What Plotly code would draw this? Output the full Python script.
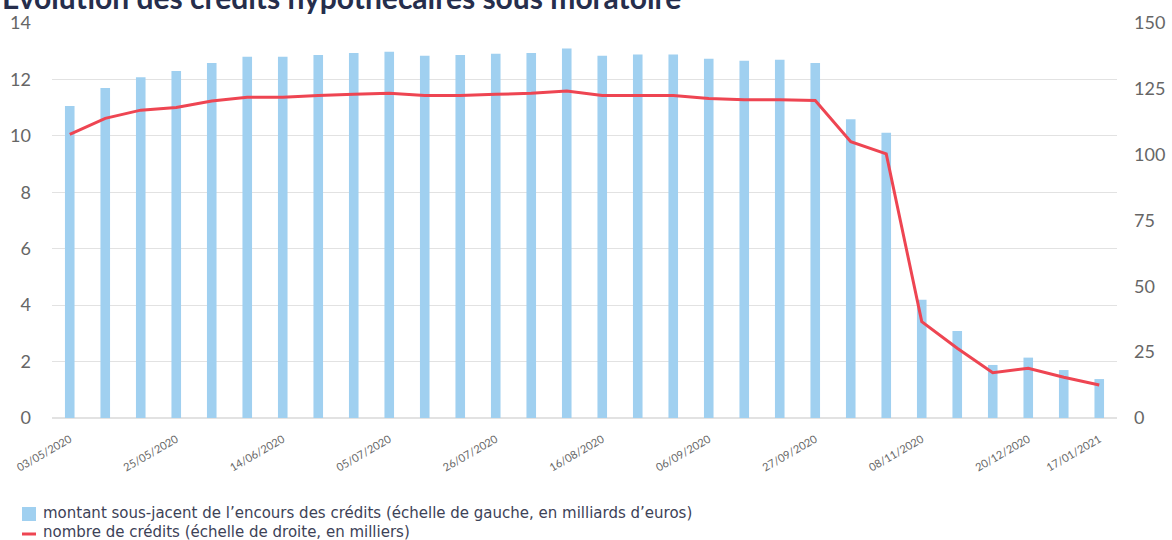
import plotly.graph_objects as go

dates = ["03/05/2020", "10/05/2020", "17/05/2020", "25/05/2020", "31/05/2020", "07/06/2020",
         "14/06/2020", "21/06/2020", "28/06/2020", "05/07/2020", "12/07/2020", "19/07/2020",
         "26/07/2020", "02/08/2020", "09/08/2020", "16/08/2020", "23/08/2020", "30/08/2020",
         "06/09/2020", "13/09/2020", "20/09/2020", "27/09/2020", "11/10/2020", "25/10/2020",
         "08/11/2020", "22/11/2020", "06/12/2020", "20/12/2020", "03/01/2021", "17/01/2021"]

montant = [11.06, 11.7, 12.08, 12.3, 12.58, 12.8, 12.8, 12.87, 12.94, 12.98, 12.84, 12.87,
           12.91, 12.94, 13.1, 12.84, 12.88, 12.88, 12.73, 12.66, 12.7, 12.58, 10.59, 10.11,
           4.19, 3.08, 1.88, 2.14, 1.70, 1.38]

nombre = [107.7, 113.8, 116.9, 117.9, 120.4, 121.8, 121.8, 122.5, 122.9, 123.3, 122.5, 122.5,
          122.9, 123.3, 124.2, 122.5, 122.5, 122.5, 121.3, 120.9, 120.9, 120.6, 104.9, 100.3,
          36.6, 26.5, 17.2, 18.9, 15.5, 12.5]

tick_labels = ["03/05/2020", "25/05/2020", "14/06/2020", "05/07/2020", "26/07/2020", "16/08/2020",
               "06/09/2020", "27/09/2020", "08/11/2020", "20/12/2020", "17/01/2021"]

title_text = "Évolution des crédits hypothécaires sous moratoire"
name_bar = "montant sous-jacent de l’encours des crédits (échelle de gauche, en milliards d’euros)"
name_line = "nombre de crédits (échelle de droite, en milliers)"

BAR_COLOR = "#a0d0f0"
LINE_COLOR = "#ee4552"
FONT = "Lato"
LEG_FONT = "DejaVu Sans"

W, H = 1172, 540
ML, MR, MT, MB = 52, 55, 23, 122
PW, PH = W - ML - MR, H - MT - MB


def px(x):
    return (x - ML) / PW


def py(y):
    return (H - MB - y) / PH


fig = go.Figure()
fig.add_trace(go.Bar(x=dates, y=montant, name=name_bar,
                     marker=dict(color=BAR_COLOR, line=dict(width=0)), width=0.27))
fig.add_trace(go.Scatter(x=dates, y=nombre, name=name_line, yaxis="y2", mode="lines",
                         line=dict(color=LINE_COLOR, width=3)))

fig.update_layout(
    width=W, height=H,
    margin=dict(l=ML, r=MR, t=MT, b=MB, autoexpand=False),
    paper_bgcolor="white", plot_bgcolor="white",
    font=dict(family=FONT, color="#555555"),
    showlegend=False,
    xaxis=dict(type="category", tickmode="array", tickvals=tick_labels, ticktext=tick_labels,
               tickangle=-30, tickfont=dict(size=11, color="#666666"), showgrid=False,
               showline=False, ticks="", zeroline=False, ticklabelstandoff=12, automargin=False),
    yaxis=dict(range=[0, 14], tickvals=[0, 2, 4, 6, 8, 10, 12, 14], showgrid=True,
               gridcolor="#e2e2e2", gridwidth=1, zeroline=True, zerolinecolor="#e2e2e2",
               zerolinewidth=2, tickfont=dict(size=18, color="#666666"), ticks="",
               ticklabelstandoff=20, automargin=False),
    yaxis2=dict(range=[0, 150], tickvals=[0, 25, 50, 75, 100, 125, 150], overlaying="y", side="right",
                showgrid=False, zeroline=False, tickfont=dict(size=18, color="#666666"), ticks="",
                ticklabelstandoff=16, automargin=False),
    annotations=[
        dict(text="<b>" + title_text + "</b>", xref="paper", yref="paper",
             x=px(0), y=py(-3), xanchor="left", yanchor="middle", showarrow=False,
             font=dict(size=30, color="#262e4c", family=FONT)),
        dict(text=name_bar, xref="paper", yref="paper", x=px(41), y=py(513),
             xanchor="left", yanchor="middle", showarrow=False,
             font=dict(size=15, color="#3d4257", family=LEG_FONT)),
        dict(text=name_line, xref="paper", yref="paper", x=px(41), y=py(532),
             xanchor="left", yanchor="middle", showarrow=False,
             font=dict(size=15, color="#3d4257", family=LEG_FONT)),
    ],
    shapes=[
        dict(type="rect", xref="paper", yref="paper", x0=px(22), x1=px(36), y0=py(521), y1=py(507),
             fillcolor=BAR_COLOR, line=dict(width=0)),
        dict(type="line", xref="paper", yref="paper", x0=px(22), x1=px(36), y0=py(534), y1=py(534),
             line=dict(color=LINE_COLOR, width=3)),
    ],
)

fig.write_html("out.html", config={"displayModeBar": False},
               post_script="document.body.style.margin='0';document.body.style.overflow='hidden';")
